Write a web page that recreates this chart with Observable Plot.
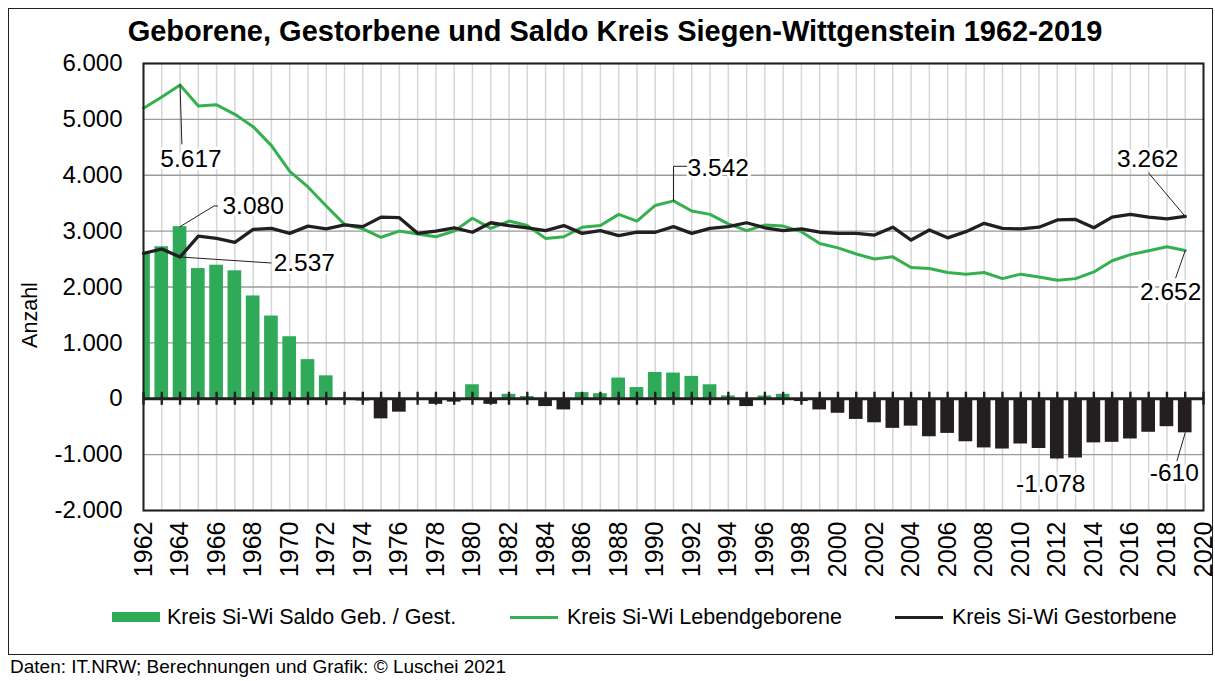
<!DOCTYPE html>
<html>
<head>
<meta charset="utf-8">
<script src="https://cdn.jsdelivr.net/npm/d3@7"></script>
<script src="https://cdn.jsdelivr.net/npm/@observablehq/plot@0.6"></script>
<style>
  body { margin: 0; background: #fff; font-family: "Liberation Sans", Arial, sans-serif; color: #000; }
  .abs { position: absolute; }
  #frame { left: 8px; top: 8px; width: 1205px; height: 647px; border: 1px solid #231f20; box-sizing: border-box; }
  #title { left: 0; width: 1230px; top: 15px; text-align: center; font-weight: bold; font-size: 29px; white-space: nowrap; }
  #ylabel { left: 30px; top: 315px; transform: translate(-50%, -50%) rotate(-90deg); font-size: 21.5px; white-space: nowrap; }
  #legend { left: 0; top: 606px; width: 1215px; height: 24px; font-size: 21.5px; }
  .lg { position: absolute; top: 0; white-space: nowrap; line-height: 22px; }
  .sw { position: absolute; }
  #caption { left: 10px; top: 656px; font-size: 19px; white-space: nowrap; }
  #chart g[aria-label^="x-axis"] text { font-size: 25px; }
</style>
</head>
<body>
<div id="frame" class="abs"></div>
<div id="chart" class="abs" style="left:0;top:0"></div>
<div id="title" class="abs">Geborene, Gestorbene und Saldo Kreis Siegen-Wittgenstein 1962-2019</div>
<div id="ylabel" class="abs">Anzahl</div>
<div id="legend" class="abs"></div>
<div id="caption" class="abs">Daten: IT.NRW; Berechnungen und Grafik: © Luschei 2021</div>
<script>
// ---------- data ----------
const years = [1962,1963,1964,1965,1966,1967,1968,1969,1970,1971,1972,1973,1974,1975,1976,1977,1978,1979,
  1980,1981,1982,1983,1984,1985,1986,1987,1988,1989,1990,1991,1992,1993,1994,1995,1996,1997,1998,1999,
  2000,2001,2002,2003,2004,2005,2006,2007,2008,2009,2010,2011,2012,2013,2014,2015,2016,2017,2018,2019];

const births = [5200,5400,5617,5240,5260,5090,4870,4530,4070,3790,3450,3120,3040,2890,3000,2950,2900,3000,
  3230,3050,3180,3100,2870,2900,3070,3100,3300,3180,3460,3542,3360,3300,3130,3010,3110,3090,2990,2780,
  2700,2590,2500,2540,2350,2330,2260,2230,2260,2150,2230,2180,2120,2150,2270,2470,2580,2650,2720,2652];

const deaths = [2600,2680,2537,2910,2870,2800,3030,3050,2960,3090,3040,3110,3080,3250,3240,2960,3000,3060,
  2980,3150,3100,3060,3010,3100,2960,3010,2920,2980,2980,3080,2960,3050,3080,3150,3060,3010,3040,2980,
  2960,2960,2930,3070,2840,3020,2880,2990,3140,3050,3040,3070,3200,3210,3060,3250,3300,3250,3220,3262];

const saldo = [2600,2720,3080,2330,2390,2290,1840,1480,1110,700,410,10,-40,-360,-240,-10,-100,-60,
  250,-100,80,40,-140,-200,110,90,370,200,470,460,400,250,50,-140,50,80,-50,-200,
  -260,-370,-430,-530,-490,-680,-620,-770,-880,-900,-810,-890,-1078,-1060,-790,-780,-720,-600,-500,-610];

const xTickLabels = [1962,1964,1966,1968,1970,1972,1974,1976,1978,1980,1982,1984,1986,1988,1990,
  1992,1994,1996,1998,2000,2002,2004,2006,2008,2010,2012,2014,2016,2018,2020];
const gridYears = d3.range(1962, 2021);
const yTicks = [-2000,-1000,0,1000,2000,3000,4000,5000,6000];

const seriesNames = ["Kreis Si-Wi Saldo Geb. / Gest.", "Kreis Si-Wi Lebendgeborene", "Kreis Si-Wi Gestorbene"];

// annotations: value point and label text
const annoLabels = ["5.617", "3.080", "2.537", "3.542", "3.262", "2.652", "-1.078", "-610"];
const annoYear   = [1964, 1964, 1964, 1991, 2019, 2019, 2012, 2019];
const annoValue  = [5617, 3080, 2537, 3542, 3262, 2652, -1078, -610];

// ---------- styling / layout ----------
const GREEN_BAR = "#2eaa58";
const GREEN_LINE = "#34b04f";
const DARK = "#231f20";
const FONT = '"Liberation Sans", Arial, sans-serif';

// label placement (data units, annotation layout only): label centre + leader bend points
const annoLayout = [
  {lx: 1964.6, ly: 4290, path: [[1964.1, 4560]]},
  {lx: 1968.0, ly: 3450, path: [[1965.86, 3450], [1966.05, 3450]]},
  {lx: 1970.8, ly: 2430, path: [[1968.97, 2430]]},
  {lx: 1993.45, ly: 4130, path: [[1991, 4160], [1991.73, 4160]]},
  {lx: 2016.95, ly: 4294, path: [[2017.0, 4040]]},
  {lx: 2018.2, ly: 1914, path: [[2018.48, 2165]]},
  {lx: 2011.64, ly: -1521, path: []},
  {lx: 2018.4, ly: -1324, path: [[2018.55, -1109]]}
];

const rows = years.map((year, i) => ({year, births: births[i], deaths: deaths[i], saldo: saldo[i]}));
const annos = annoLabels.map((label, i) => ({label, year: annoYear[i], value: annoValue[i], ...annoLayout[i]}));
const leaderPts = annos.flatMap((a, k) => [[a.year, a.value], ...a.path].map(([x, y]) => ({k, x, y})));

const locale = d3.formatLocale({decimal: ",", thousands: ".", grouping: [3], currency: ["", " €"], minus: "-"});
const fmt = locale.format(",");

const chart = Plot.plot({
  width: 1215,
  height: 600,
  marginLeft: 143,
  marginRight: 12,
  marginTop: 63,
  marginBottom: 90,
  style: {fontFamily: FONT, fontSize: "24px", color: "#000", background: "transparent", overflow: "visible"},
  x: {domain: [1962, 2020], ticks: xTickLabels, tickFormat: d => String(d), tickRotate: -90, tickSize: 0, tickPadding: 11, label: null},
  y: {domain: [-2000, 6000], ticks: yTicks, tickFormat: fmt, tickSize: 0, tickPadding: 21, label: null},
  marks: [
    Plot.ruleX(gridYears, {stroke: "#d6d6d6", strokeWidth: 1.5}),
    Plot.ruleY(yTicks, {stroke: "#9a9a9a", strokeWidth: 1.3}),
    Plot.rectY(rows, {
      x1: d => d.year - 0.5, x2: d => d.year + 0.5, y1: 0, y2: "saldo",
      insetLeft: 2.3, insetRight: 2.3,
      fill: d => d.saldo >= 0 ? GREEN_BAR : DARK,
      clip: true
    }),
    Plot.ruleY([0], {stroke: DARK, strokeWidth: 3.2}),
    Plot.ruleX(gridYears, {x: d => d, y1: 0, y2: 0, insetTop: -6.5, insetBottom: -6.5, stroke: DARK, strokeWidth: 2.4}),
    Plot.line(rows, {x: "year", y: "births", stroke: GREEN_LINE, strokeWidth: 3, strokeLinejoin: "round"}),
    Plot.line(rows, {x: "year", y: "deaths", stroke: DARK, strokeWidth: 3.3, strokeLinejoin: "round"}),
    Plot.line(leaderPts, {x: "x", y: "y", z: "k", stroke: DARK, strokeWidth: 1}),
    Plot.text(annos, {
      x: "lx", y: "ly", text: "label",
      fontSize: 24.5, fill: "#000", stroke: "white", strokeWidth: 6, paintOrder: "stroke"
    }),
    Plot.frame({stroke: DARK, strokeWidth: 2})
  ]
});
document.getElementById("chart").appendChild(chart);

// ---------- legend ----------
const legend = document.getElementById("legend");
const legendItems = [
  {name: seriesNames[0], type: "bar", color: GREEN_BAR, sx: 112, tx: 167},
  {name: seriesNames[1], type: "line", color: GREEN_LINE, sx: 510, tx: 567},
  {name: seriesNames[2], type: "line", color: DARK, sx: 895, tx: 952}
];
for (const it of legendItems) {
  const sw = document.createElement("div");
  sw.className = "sw";
  sw.style.left = it.sx + "px";
  sw.style.width = "48px";
  sw.style.background = it.color;
  if (it.type === "bar") { sw.style.top = "6px"; sw.style.height = "10px"; }
  else { sw.style.top = "9.5px"; sw.style.height = "3px"; }
  legend.appendChild(sw);
  const t = document.createElement("div");
  t.className = "lg";
  t.style.left = it.tx + "px";
  t.textContent = it.name;
  legend.appendChild(t);
}
</script>
</body>
</html>
